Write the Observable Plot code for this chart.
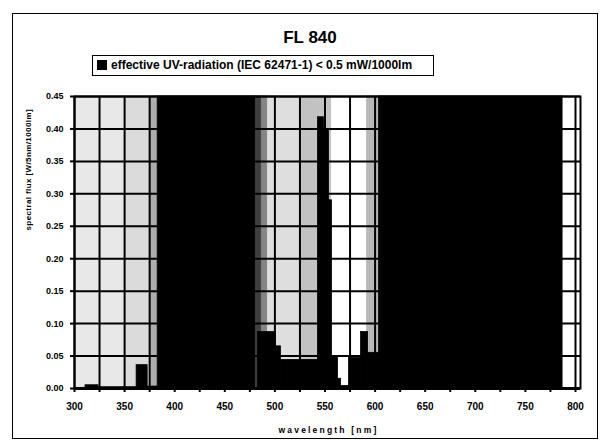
<!DOCTYPE html>
<html>
<head>
<meta charset="utf-8">
<script src="https://cdn.jsdelivr.net/npm/d3@7"></script>
<script src="https://cdn.jsdelivr.net/npm/@observablehq/plot@0.6"></script>
<style>
body{margin:0;background:#fff;font-family:"Liberation Sans",Arial,sans-serif;}
#wrap{position:relative;width:601px;height:441px;overflow:hidden;background:#fff;}
#chart{position:absolute;left:0;top:0;}
#border{position:absolute;left:12px;top:13px;width:586px;height:426px;border:1.5px solid #000;box-sizing:border-box;pointer-events:none;}
#title{position:absolute;left:0;width:620px;top:28px;text-align:center;font-weight:bold;font-size:17px;line-height:20px;}
#legend{position:absolute;left:92px;top:55px;width:342px;height:21px;border:1.5px solid #000;box-sizing:border-box;font-weight:bold;font-size:12px;line-height:18px;white-space:nowrap;background:#fff;}
#legend .sw{display:inline-block;width:10px;height:10px;background:#000;margin:0 4px 0 4px;vertical-align:-1px;}
</style>
</head>
<body>
<div id="wrap">
  <div id="chart"></div>
  <div id="border"></div>
  <div id="title">FL 840</div>
  <div id="legend"><span class="sw"></span>effective UV-radiation (IEC 62471-1) &lt; 0.5 mW/1000lm</div>
</div>
<script>
// ---- data ----
// background spectral-colour bands (as scanned: darkness 0 = white, 1 = black)
const bandStart = [300, 350, 376, 383, 481, 487, 493, 526, 543, 557, 592, 604, 788];
const bandEnd   = [350, 376, 383, 481, 487, 493, 526, 543, 557, 592, 604, 788, 805];
const bandShade = [0.09, 0.14, 0.32, 1.0, 0.75, 0.48, 0.13, 0.24, 0.24, 0.0, 0.28, 1.0, 0.0];

// spectral flux steps: value holds from stepStart[i] to stepStart[i+1]
const stepStart = [300, 311, 324, 362, 373, 383, 483, 501, 506, 543, 549, 554, 557, 563, 566, 574, 586, 593, 604];
const stepFlux  = [0.001, 0.005, 0.002, 0.036, 0.003, null, 0.087, 0.065, 0.044, 0.418, 0.400, 0.290, 0.050, 0.015, 0.004, 0.047, 0.087, 0.055, null];

const xTicks = [300, 325, 350, 375, 400, 425, 450, 475, 500, 525, 550, 575, 600, 625, 650, 675, 700, 725, 750, 775, 800];
const xTickLabels = [300, 350, 400, 450, 500, 550, 600, 650, 700, 750, 800];
const yTicks = [0, 0.05, 0.10, 0.15, 0.20, 0.25, 0.30, 0.35, 0.40, 0.45];

const xTitle = "wavelength [nm]";
const yTitle = "spectral flux [W/5nm/1000lm]";

// ---- tables built from the arrays ----
const bands = bandStart.map((s, i) => ({start: s, end: bandEnd[i], shade: bandShade[i]}));
const steps = [];
for (let i = 0; i < stepStart.length - 1; i++) {
  if (stepFlux[i] != null) steps.push({x1: stepStart[i], x2: stepStart[i + 1], flux: stepFlux[i]});
}

const plot = Plot.plot({
  width: 601,
  height: 441,
  marginTop: 96,
  marginBottom: 53,
  marginLeft: 74,
  marginRight: 21,
  x: {domain: [300, 805]},
  y: {domain: [0, 0.45]},
  color: {type: "linear", domain: [0, 1], range: ["#ffffff", "#000000"]},
  style: {fontFamily: "'Liberation Sans', Arial, sans-serif", fontWeight: "bold", fontSize: "9px", color: "#000", background: "transparent"},
  marks: [
    Plot.rect(bands, {x1: "start", x2: "end", y1: () => 0, y2: () => 0.45, fill: "shade", stroke: "shade", strokeWidth: 0.8}),
    Plot.gridX(xTicks, {stroke: "#000", strokeOpacity: 1, strokeWidth: 2}),
    Plot.gridY(yTicks, {stroke: "#000", strokeOpacity: 1, strokeWidth: 2}),
    Plot.rectY(steps, {x1: "x1", x2: "x2", y: "flux", fill: "#000", stroke: "#000", strokeWidth: 0.8}),
    Plot.axisX(xTicks, {tickSize: 4, tickPadding: 10, fontSize: 10, strokeWidth: 2,
      tickFormat: d => xTickLabels.includes(d) ? String(d) : "", label: null}),
    Plot.axisY(yTicks, {tickSize: 4, tickPadding: 7, fontSize: 9, strokeWidth: 2,
      tickFormat: d3.format(".2f"), label: null}),
    Plot.frame({stroke: "#000", strokeWidth: 2}),
    Plot.ruleY([0], {stroke: "#000", strokeWidth: 3}),
    Plot.text([xTitle], {frameAnchor: "bottom", dy: 44, dx: 1, fontSize: 8.5, fontWeight: "bold"}),
    Plot.text([yTitle], {frameAnchor: "left", dx: -46, dy: -12, rotate: -90, fontSize: 8, fontWeight: "bold"})
  ]
});
// scanned axis titles are letter-spaced
d3.select(plot).selectAll("text")
  .filter(function () { return this.textContent === xTitle; })
  .style("letter-spacing", "2.2px");
d3.select(plot).selectAll("text")
  .filter(function () { return this.textContent === yTitle; })
  .style("letter-spacing", "0.4px");
document.getElementById("chart").appendChild(plot);
</script>
</body>
</html>
